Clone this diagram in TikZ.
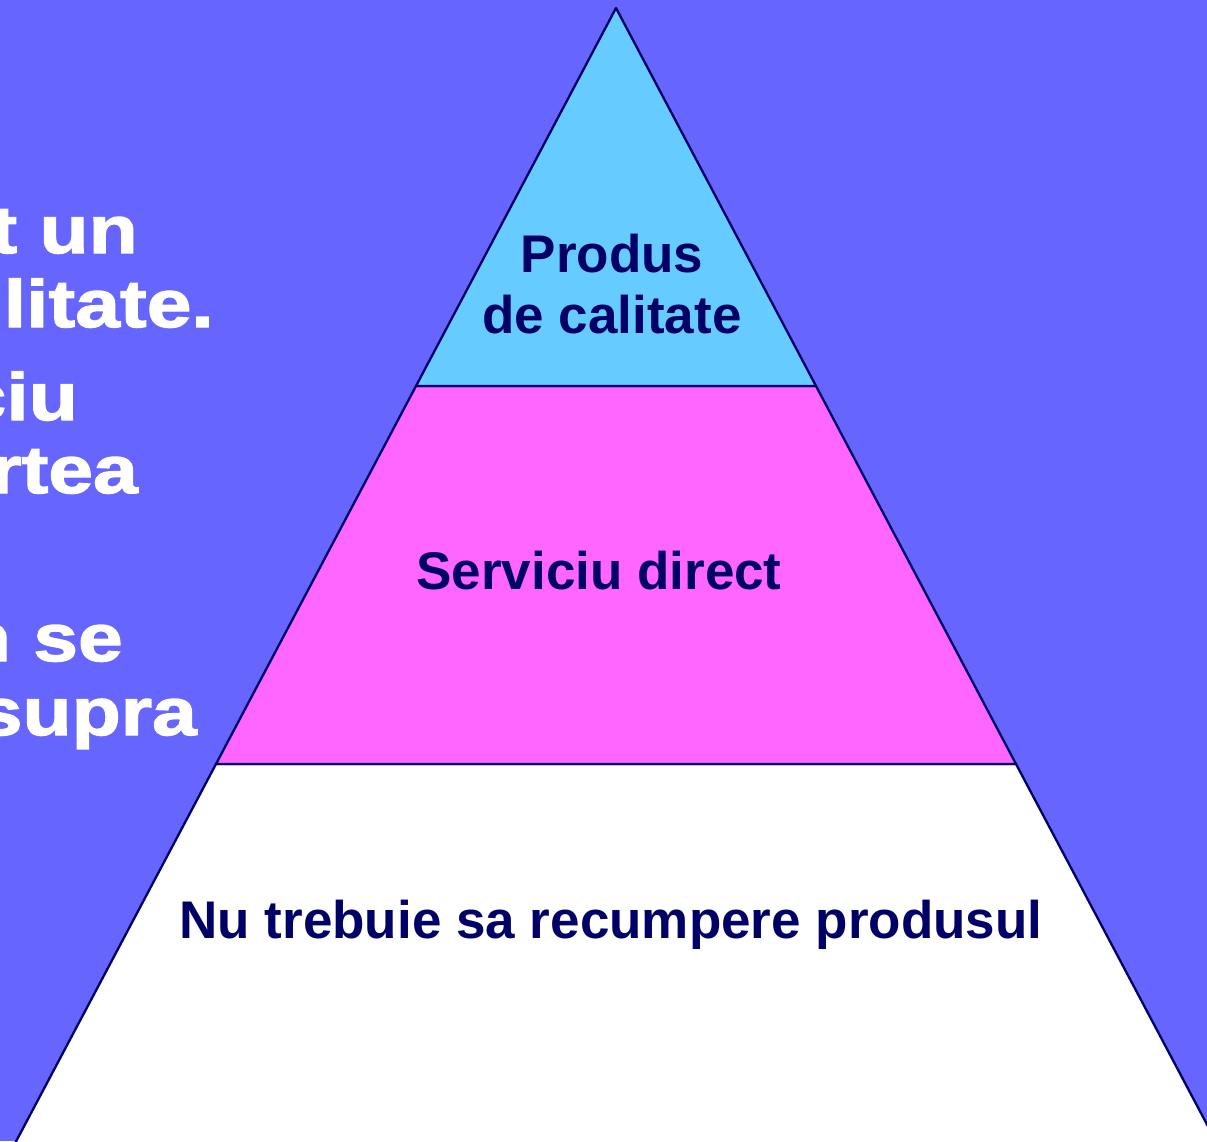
\documentclass[tikz,border=0pt]{standalone}
\usepackage{fontspec}
\setmainfont{Liberation Sans}
\newfontfamily\heavyfont{Liberation Sans}[FakeStretch=1.2, BoldFeatures={FakeBold=2}]
\usepackage{xcolor}
\usetikzlibrary{positioning}
\definecolor{slideblue}{HTML}{6666FF}
\definecolor{topcyan}{HTML}{66CCFF}
\definecolor{midpink}{HTML}{FF66FF}
\definecolor{inknavy}{HTML}{000066}

\begin{document}
\begin{tikzpicture}[x=1pt, y=-1pt,
        % Define styles for the pyramid layers and the slide text
        layer_box/.style={draw=inknavy, line width=2.3pt, line join=round},
        layer_label/.style={text=inknavy, align=center, inner sep=0pt,
            font=\bfseries\fontsize{53}{61}\selectfont},
        side_text/.style={text=white, anchor=base east, inner sep=0pt,
            font=\heavyfont\bfseries\fontsize{67}{74}\selectfont}
    ]
        \useasboundingbox (0,0) rectangle (1207,1141);
        \clip (0,0) rectangle (1207,1141);
        \fill[slideblue] (0,0) rectangle (1207,1141);

        % --- Cut-off slide text on the left ---
        \node (line_a) [side_text] at (138, 253) {t un};
        \node (line_b) [side_text] at (214, 327) {litate.};
        \node (line_c) [side_text] at (78, 420) {ciu};
        \node (line_d) [side_text] at (138, 493) {rtea};
        \node (line_e) [side_text] at (123, 661) {n se};
        \node (line_f) [side_text] at (197, 735) {supra};

        % --- Pyramid corners at fixed positions ---
        \coordinate (apex) at (616, 8);
        \coordinate (l1) at (416, 386);  \coordinate (r1) at (816, 386);
        \coordinate (l2) at (216, 764);  \coordinate (r2) at (1016, 764);
        \coordinate (l3) at (-15, 1200); \coordinate (r3) at (1247, 1200);

        % --- Draw the three layers ---
        \filldraw[layer_box, fill=white] (l2) -- (r2) -- (r3) -- (l3) -- cycle;
        \filldraw[layer_box, fill=midpink] (l1) -- (r1) -- (r2) -- (l2) -- cycle;
        \filldraw[layer_box, fill=topcyan] (apex) -- (r1) -- (l1) -- cycle;

        % --- Layer labels ---
        \node (top_label) [layer_label] at (612, 284) {Produs\\de calitate};
        \node (mid_label) [layer_label] at (599, 571) {Serviciu direct};
        \node (low_label) [layer_label] at (611, 925) {Nu trebuie sa recumpere produsul};

    \end{tikzpicture}
\end{document}
